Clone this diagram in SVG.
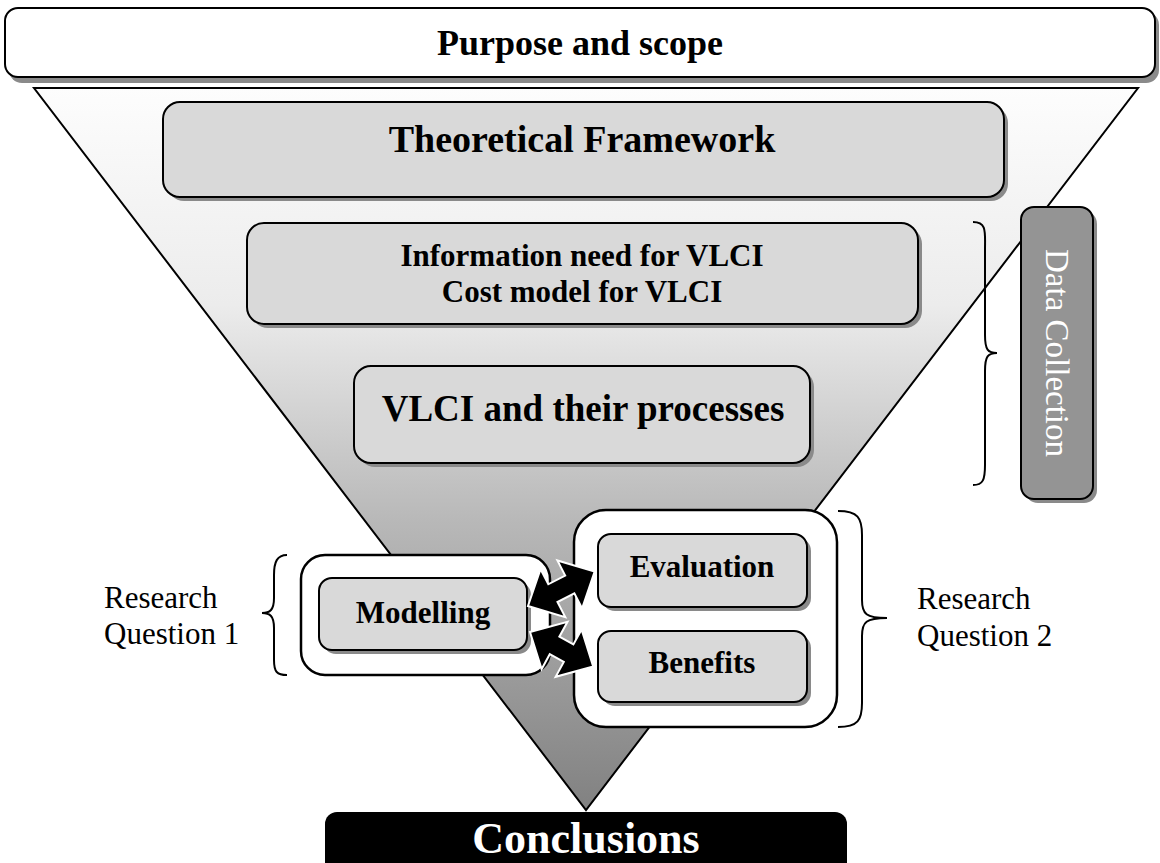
<svg xmlns="http://www.w3.org/2000/svg" width="1160" height="863" viewBox="0 0 1160 863">
<defs>
<linearGradient id="funnel" x1="0" y1="88" x2="0" y2="810" gradientUnits="userSpaceOnUse">
<stop offset="0" stop-color="#fdfdfd"/>
<stop offset="0.3" stop-color="#ececec"/>
<stop offset="0.6" stop-color="#b8b8b8"/>
<stop offset="1" stop-color="#818181"/>
</linearGradient>
<style>
.lbl{font-family:"Liberation Serif",serif;font-weight:bold;fill:#000;text-anchor:middle}
.reg{font-family:"Liberation Serif",serif;fill:#000;font-size:31px}
.box{fill:#d9d9d9;stroke:#000;stroke-width:2}
.shadow{fill:#8a8a8a}
.cont{fill:#fff;stroke:#000;stroke-width:2.5}
.brace{fill:none;stroke:#000;stroke-width:2}
.arrow{fill:#000;stroke:#fff;stroke-width:2;stroke-linejoin:miter}
</style>
</defs>
<rect width="1160" height="863" fill="#fff"/>

<g id="funnel-shape">
<polygon points="34,88 1138,88 586,810" fill="url(#funnel)" stroke="#000" stroke-width="2"/>
</g>

<g id="purpose">
<rect class="shadow" x="9" y="12" width="1150" height="71" rx="13"/>
<rect x="5" y="8" width="1150" height="69" rx="13" fill="#fff" stroke="#000" stroke-width="2"/>
<text class="lbl" x="580" y="55" font-size="36">Purpose and scope</text>
</g>

<g id="theoretical">
<rect class="shadow" x="167" y="106" width="841" height="95" rx="17"/>
<rect class="box" x="163" y="102" width="841" height="95" rx="17"/>
<text class="lbl" x="582" y="152" font-size="38">Theoretical Framework</text>
</g>

<g id="information">
<rect class="shadow" x="251" y="227" width="671" height="101" rx="17"/>
<rect class="box" x="247" y="223" width="671" height="101" rx="17"/>
<text class="lbl" x="582" y="266" font-size="31">Information need for VLCI</text>
<text class="lbl" x="582" y="302" font-size="31">Cost model for VLCI</text>
</g>

<g id="vlci">
<rect class="shadow" x="358" y="370" width="456" height="97" rx="17"/>
<rect class="box" x="354" y="366" width="456" height="97" rx="17"/>
<text class="lbl" x="583" y="421" font-size="37">VLCI and their processes</text>
</g>

<g id="rq1-group">
<rect class="cont" x="301" y="555" width="249" height="120" rx="24"/>
</g>
<g id="rq2-group">
<rect class="cont" x="574" y="510" width="263" height="217" rx="32"/>
</g>

<g id="modelling">
<rect class="shadow" x="323" y="582" width="208" height="72" rx="13"/>
<rect class="box" x="319" y="578" width="208" height="72" rx="13"/>
<text class="lbl" x="423" y="623" font-size="31">Modelling</text>
</g>

<g id="evaluation">
<rect class="shadow" x="602" y="538" width="209" height="73" rx="13"/>
<rect class="box" x="598" y="534" width="209" height="73" rx="13"/>
<text class="lbl" x="702" y="577" font-size="31">Evaluation</text>
</g>

<g id="benefits">
<rect class="shadow" x="602" y="635" width="209" height="71" rx="13"/>
<rect class="box" x="598" y="631" width="209" height="71" rx="13"/>
<text class="lbl" x="702" y="673" font-size="31">Benefits</text>
</g>

<g id="connectors">
<polygon class="arrow" transform="translate(528,606) rotate(-27.3)" points="0,0 28,-27 28,-10 47,-10 47,-27 75,0 47,27 47,10 28,10 28,27"/>
<polygon class="arrow" transform="translate(530,632) rotate(28.7)" points="0,0 28,-27 28,-10 44,-10 44,-27 72,0 44,27 44,10 28,10 28,27"/>
</g>

<g id="braces">
<path class="brace" d="M973,222 C987,222 985,232 985,250 L985,335 C985,350 988,353 997,353 C988,353 985,356 985,371 L985,465 C985,480 983,485 973,485"/>
<path class="brace" d="M287,555 C277,555 274,562 274,575 L274,598 C274,610 270,613 262,613 C270,613 274,616 274,628 L274,660 C274,672 277,675 287,675"/>
<path class="brace" d="M838,511 C858,511 862,518 862,535 L862,600 C862,614 866,618 887,618 C866,618 862,622 862,636 L862,703 C862,720 858,727 838,727"/>
</g>

<g id="rq1-label">
<text class="reg" x="104" y="608">Research</text>
<text class="reg" x="104" y="644">Question 1</text>
</g>
<g id="rq2-label">
<text class="reg" x="917" y="609">Research</text>
<text class="reg" x="917" y="646">Question 2</text>
</g>

<g id="data-collection">
<rect class="shadow" x="1025" y="211" width="72" height="292" rx="13"/>
<rect x="1021" y="207" width="72" height="292" rx="13" fill="#949494" stroke="#000" stroke-width="2"/>
<text transform="translate(1046,353) rotate(90)" font-family="Liberation Serif, serif" font-size="33" fill="#fff" text-anchor="middle">Data Collection</text>
</g>

<g id="conclusions">
<rect x="325" y="812" width="522" height="70" rx="12" fill="#000"/>
<text x="586" y="853" font-family="Liberation Serif, serif" font-weight="bold" font-size="44" fill="#fff" text-anchor="middle">Conclusions</text>
</g>
</svg>
